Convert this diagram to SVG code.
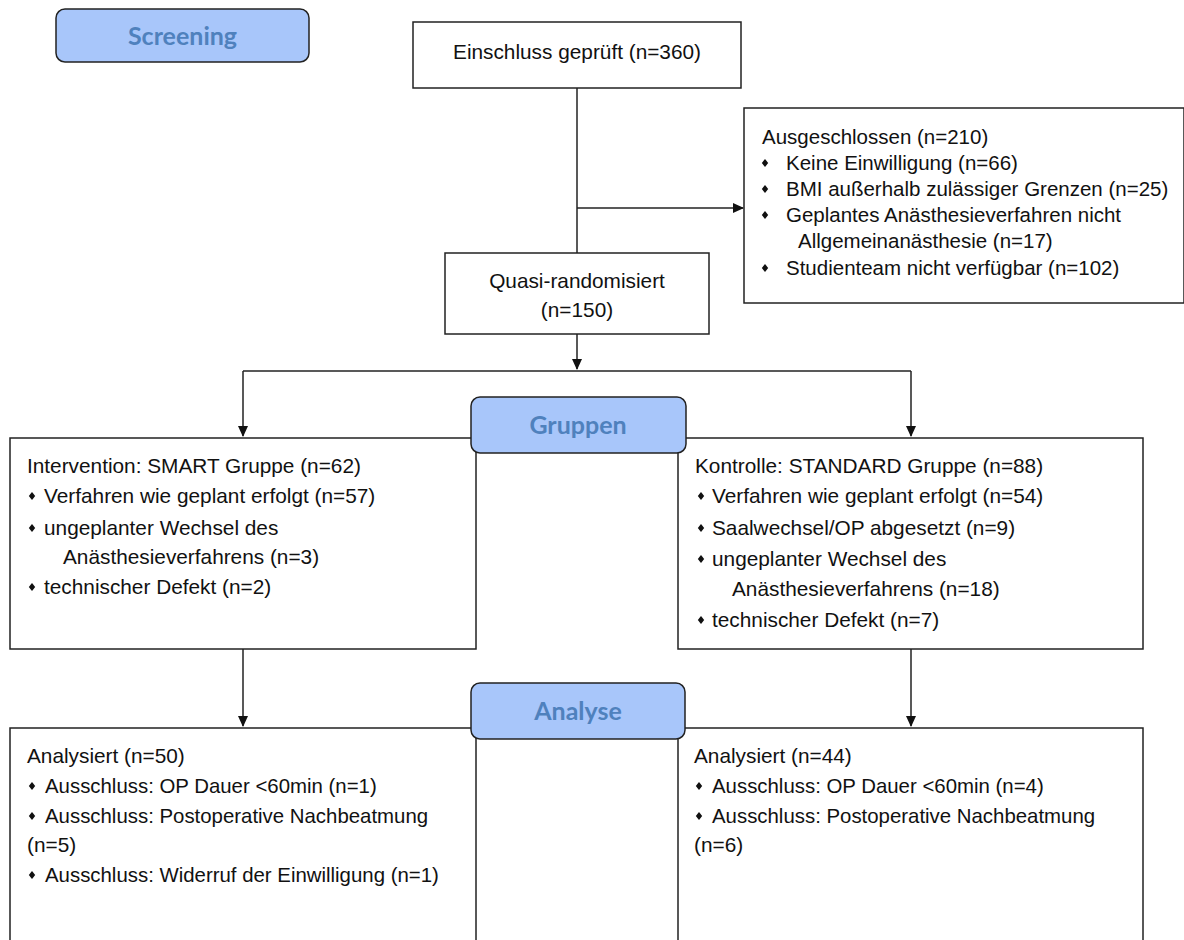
<svg xmlns="http://www.w3.org/2000/svg" width="1184" height="940" viewBox="0 0 1184 940">
<style>
.box{fill:#fff;stroke:#222;stroke-width:1.5}
.lab{fill:#a8c6fa;stroke:#222;stroke-width:1.5}
.labt{font-family:Lato,"Open Sans",sans-serif;font-weight:bold;font-size:25px;fill:#4f81bd;text-anchor:middle}
.t{font-family:"Liberation Sans",Arial,sans-serif;font-size:20.8px;fill:#111}
.tx{font-family:"Liberation Sans",Arial,sans-serif;font-size:20.5px;fill:#111}
.ta{font-family:"Liberation Sans",Arial,sans-serif;font-size:20.4px;fill:#111}
.c{text-anchor:middle}
.ln{fill:none;stroke:#222;stroke-width:1.5}
</style>
<defs>
<marker id="arr" markerWidth="12" markerHeight="12" refX="10" refY="6" orient="auto" markerUnits="userSpaceOnUse">
<path d="M0,1 L11,6 L0,11 Z" fill="#111"/>
</marker>
<path id="dia" d="M0,-4 L3.2,0 L0,4 L-3.2,0 Z" fill="#111"/>
</defs>

<g id="connectors">
<path class="ln" d="M577,88 V253"/>
<path class="ln" d="M577,208 H743" marker-end="url(#arr)"/>
<path class="ln" d="M577,334 V369" marker-end="url(#arr)"/>
<path class="ln" d="M243,371 H911"/>
<path class="ln" d="M243,371 V436" marker-end="url(#arr)"/>
<path class="ln" d="M911,371 V436" marker-end="url(#arr)"/>
<path class="ln" d="M243,649 V726" marker-end="url(#arr)"/>
<path class="ln" d="M911,649 V726" marker-end="url(#arr)"/>
</g>

<g id="einschluss">
<rect class="box" x="413" y="22" width="328" height="66"/>
<text class="t c" x="577" y="59">Einschluss geprüft (n=360)</text>
</g>

<g id="ausgeschlossen">
<rect class="box" x="744" y="108" width="440" height="195"/>
<text class="tx" x="762" y="144">Ausgeschlossen (n=210)</text>
<use href="#dia" x="765" y="163"/>
<text class="tx" x="786" y="170">Keine Einwilligung (n=66)</text>
<use href="#dia" x="765" y="189"/>
<text class="tx" x="786" y="196">BMI außerhalb zulässiger Grenzen (n=25)</text>
<use href="#dia" x="765" y="215"/>
<text class="tx" x="786" y="222">Geplantes Anästhesieverfahren nicht</text>
<text class="tx" x="798" y="248">Allgemeinanästhesie (n=17)</text>
<use href="#dia" x="765" y="268"/>
<text class="tx" x="786" y="275">Studienteam nicht verfügbar (n=102)</text>
</g>

<g id="quasi">
<rect class="box" x="445" y="253" width="264" height="81"/>
<text class="t c" x="577" y="288">Quasi-randomisiert</text>
<text class="t c" x="577" y="317">(n=150)</text>
</g>

<g id="smart">
<rect class="box" x="10" y="438" width="466" height="211"/>
<text class="t" x="27" y="473">Intervention: SMART Gruppe (n=62)</text>
<use href="#dia" x="32" y="496"/>
<text class="t" x="44" y="503">Verfahren wie geplant erfolgt (n=57)</text>
<use href="#dia" x="32" y="528"/>
<text class="t" x="44" y="535">ungeplanter Wechsel des</text>
<text class="t" x="63" y="564">Anästhesieverfahrens (n=3)</text>
<use href="#dia" x="32" y="587"/>
<text class="t" x="44" y="594">technischer Defekt (n=2)</text>
</g>

<g id="standard">
<rect class="box" x="678" y="438" width="465" height="211"/>
<text class="t" x="695" y="473">Kontrolle: STANDARD Gruppe (n=88)</text>
<use href="#dia" x="701" y="496"/>
<text class="t" x="712" y="503">Verfahren wie geplant erfolgt (n=54)</text>
<use href="#dia" x="701" y="528"/>
<text class="t" x="712" y="535">Saalwechsel/OP abgesetzt (n=9)</text>
<use href="#dia" x="701" y="559"/>
<text class="t" x="712" y="566">ungeplanter Wechsel des</text>
<text class="t" x="732" y="596">Anästhesieverfahrens (n=18)</text>
<use href="#dia" x="701" y="620"/>
<text class="t" x="712" y="627">technischer Defekt (n=7)</text>
</g>

<g id="analyse-smart">
<rect class="box" x="10" y="728" width="466" height="240"/>
<text class="t" x="27" y="763">Analysiert (n=50)</text>
<use href="#dia" x="32" y="786"/>
<text class="ta" x="45" y="793">Ausschluss: OP Dauer &lt;60min (n=1)</text>
<use href="#dia" x="32" y="816"/>
<text class="ta" x="45" y="823">Ausschluss: Postoperative Nachbeatmung</text>
<text class="t" x="27" y="852">(n=5)</text>
<use href="#dia" x="32" y="875"/>
<text class="ta" x="45" y="882">Ausschluss: Widerruf der Einwilligung (n=1)</text>
</g>

<g id="analyse-standard">
<rect class="box" x="678" y="728" width="465" height="240"/>
<text class="t" x="694" y="763">Analysiert (n=44)</text>
<use href="#dia" x="699" y="786"/>
<text class="ta" x="712" y="793">Ausschluss: OP Dauer &lt;60min (n=4)</text>
<use href="#dia" x="699" y="816"/>
<text class="ta" x="712" y="823">Ausschluss: Postoperative Nachbeatmung</text>
<text class="t" x="694" y="852">(n=6)</text>
</g>

<g id="screening">
<rect class="lab" x="56" y="9" width="253" height="53" rx="9"/>
<text class="labt" x="182.5" y="45">Screening</text>
</g>

<g id="gruppen">
<rect class="lab" x="471" y="397" width="215" height="56" rx="9"/>
<text class="labt" x="578" y="434">Gruppen</text>
</g>

<g id="analyse">
<rect class="lab" x="471" y="683" width="214" height="56" rx="9"/>
<text class="labt" x="578" y="720">Analyse</text>
</g>
</svg>
